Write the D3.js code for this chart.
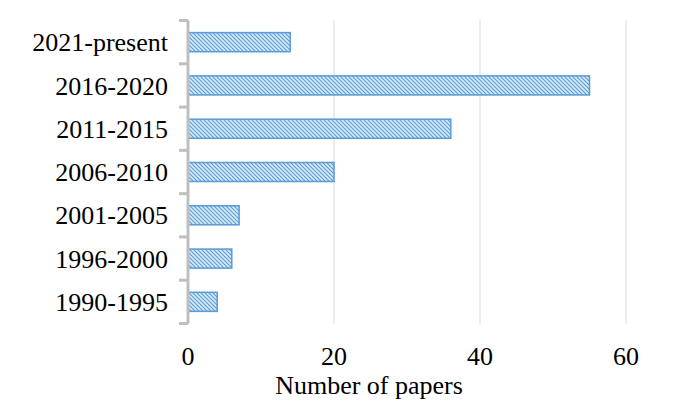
<!DOCTYPE html>
<html><head><meta charset="utf-8">
<script src="https://cdn.jsdelivr.net/npm/d3@7"></script>
<style>body{margin:0;background:#fff}svg{display:block}
text{font-family:"Liberation Serif","Times New Roman","DejaVu Serif",serif;font-size:26px;fill:#000}</style>
</head><body><svg id="c" width="696" height="413"></svg>
<script>
const categories = ["2021-present","2016-2020","2011-2015","2006-2010","2001-2005","1996-2000","1990-1995"];
const values = [14,55,36,20,7,6,4];
const xTicks = [0,20,40,60];

const svg = d3.select("#c");
const x = d3.scaleLinear().domain([0,60]).range([188,626]);
const y = d3.scaleBand().domain(categories).range([20.5,323.5]).paddingInner(0.56).paddingOuter(0.28);
const yb = d3.scaleBand().domain(categories).range([20.5,323.5]);

const defs = svg.append("defs");
const pat = defs.append("pattern").attr("id","hatch").attr("patternUnits","userSpaceOnUse")
  .attr("width",4).attr("height",4);
pat.append("rect").attr("width",4).attr("height",4).attr("fill","#d6eaf8");
pat.append("path").attr("d","M-1,-1 L5,5 M-1,3 L1,5 M3,-1 L5,1").attr("stroke","#5b9bd5").attr("stroke-width",1.1);

// gridlines
svg.append("g").selectAll("line").data(xTicks.filter(d=>d>0)).join("line")
  .attr("x1",d=>x(d)).attr("x2",d=>x(d)).attr("y1",20.5).attr("y2",323.5)
  .attr("stroke","#d9d9d9").attr("stroke-width",1);

// bars
svg.append("g").selectAll("rect").data(categories).join("rect")
  .attr("x",x(0)).attr("y",d=>y(d)).attr("height",y.bandwidth())
  .attr("width",(d,i)=>x(values[i])-x(0))
  .attr("fill","url(#hatch)").attr("stroke","#5b9bd5").attr("stroke-width",1.5);

// y axis (bracket style)
const ax = svg.append("g");
ax.append("line").attr("x1",x(0)).attr("x2",x(0)).attr("y1",20.5).attr("y2",323.5)
  .attr("stroke","#bfbfbf").attr("stroke-width",3);
const bounds = categories.map(c=>yb(c)).concat([323.5]);
ax.selectAll("line.t").data(bounds).join("line").attr("class","t")
  .attr("x1",x(0)-9).attr("x2",x(0)).attr("y1",d=>d).attr("y2",d=>d)
  .attr("stroke","#bfbfbf").attr("stroke-width",3);

// y labels
svg.append("g").selectAll("text").data(categories).join("text")
  .attr("x",168).attr("y",d=>yb(d)+yb.bandwidth()/2).attr("dy","0.35em")
  .attr("text-anchor","end").text(d=>d);

// x tick labels
svg.append("g").selectAll("text").data(xTicks).join("text")
  .attr("x",d=>x(d)).attr("y",365).attr("text-anchor","middle").text(d=>d);

svg.append("text").attr("x",369).attr("y",394).attr("text-anchor","middle").text("Number of papers");
</script></body></html>
